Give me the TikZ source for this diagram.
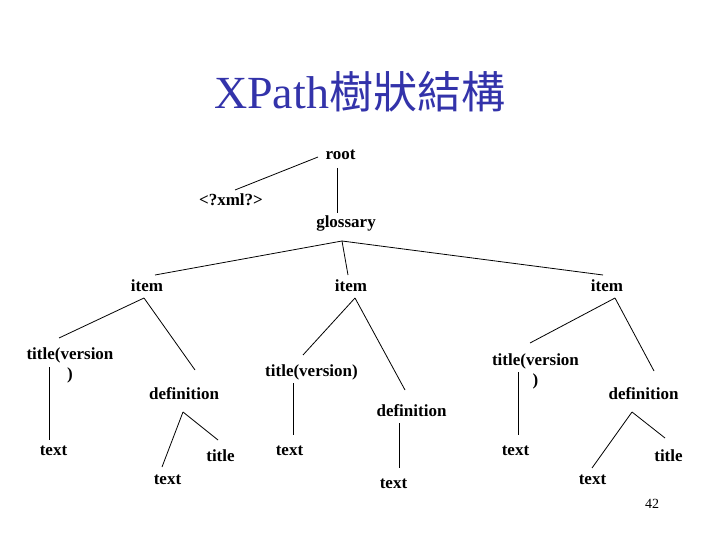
\documentclass[tikz,border=0pt]{standalone}
\usepackage{fontspec}
\setmainfont{Liberation Serif}
\newfontfamily\cjkfont{Noto Sans CJK TC}
\definecolor{titleblue}{RGB}{51,51,170}
\newcommand\nb[3]{([shift={(#2,#3)}]#1.base)}
\tikzset{
  lbl/.style={anchor=base,inner sep=0pt,font=\fontsize{17}{20}\selectfont\bfseries},
  edge/.style={draw=black,line width=0.8pt},
}
\begin{document}
\begin{tikzpicture}[x=1pt,y=-1pt]
\useasboundingbox[fill=white] (0,0) rectangle (720,540);
\node[anchor=base west,inner sep=0pt,text=titleblue,font=\fontsize{46}{50}\selectfont] (title) at (214,109) {XPath{\cjkfont\fontsize{44}{50}\selectfont 樹狀結構}};
\node[lbl] (root) at (340.5,160) {root};
\node[lbl] (xml) at (231,206) {<?xml?>};
\node[lbl] (glossary) at (346,227) {glossary};
\node[lbl] (item1) at (147,291) {item};
\node[lbl] (item2) at (351,291) {item};
\node[lbl] (item3) at (607,291) {item};
\node[lbl] (tvL) at (70,359) {\begin{tabular}[t]{@{}c@{}}title(version\\)\end{tabular}};
\node[lbl] (def1) at (184,399) {definition};
\node[lbl] (tvM) at (311.5,376) {title(version)};
\node[lbl] (def2) at (411.5,416) {definition};
\node[lbl] (tvR) at (535.5,365) {\begin{tabular}[t]{@{}c@{}}title(version\\)\end{tabular}};
\node[lbl] (def3) at (643.5,399) {definition};
\node[lbl] (text1) at (53.5,455) {text};
\node[lbl] (title1) at (220.5,461) {title};
\node[lbl] (text2) at (167.5,484) {text};
\node[lbl] (text3) at (289.5,455) {text};
\node[lbl] (text4) at (393.5,488) {text};
\node[lbl] (text5) at (515.5,455) {text};
\node[lbl] (title2) at (668.5,461) {title};
\node[lbl] (text6) at (592.5,484) {text};
\node[anchor=base,inner sep=0pt,font=\fontsize{14}{16}\selectfont] (num) at (652,508) {42};
% connectors
\draw[edge] \nb{root}{-22.5}{-3} -- \nb{xml}{4}{-16};
\draw[edge] \nb{root}{-3.5}{8} -- \nb{glossary}{-9}{-14};
\draw[edge] \nb{glossary}{-4}{14} -- \nb{item1}{8}{-16};
\draw[edge] \nb{glossary}{-4}{14} -- \nb{item2}{-3}{-16};
\draw[edge] \nb{glossary}{-4}{14} -- \nb{item3}{-4}{-16};
\draw[edge] \nb{item1}{-3}{7} -- \nb{tvL}{-11}{-21};
\draw[edge] \nb{item1}{-3}{7} -- \nb{def1}{11}{-29};
\draw[edge] \nb{tvL}{-21}{8} -- \nb{text1}{-4.5}{-15};
\draw[edge] \nb{def1}{-1}{13} -- \nb{text2}{-5.5}{-17};
\draw[edge] \nb{def1}{-1}{13} -- \nb{title1}{-2.5}{-21};
\draw[edge] \nb{item2}{4}{7} -- \nb{tvM}{-8.5}{-21};
\draw[edge] \nb{item2}{4}{7} -- \nb{def2}{-6.5}{-26};
\draw[edge] \nb{tvM}{-18.5}{7} -- \nb{text3}{3.5}{-20};
\draw[edge] \nb{def2}{-12.5}{7} -- \nb{text4}{5.5}{-20};
\draw[edge] \nb{item3}{8}{7} -- \nb{tvR}{-5.5}{-22};
\draw[edge] \nb{item3}{8}{7} -- \nb{def3}{10.5}{-28};
\draw[edge] \nb{tvR}{-17.5}{7} -- \nb{text5}{2.5}{-20};
\draw[edge] \nb{def3}{-11.5}{13} -- \nb{text6}{-0.5}{-16};
\draw[edge] \nb{def3}{-11.5}{13} -- \nb{title2}{-3.5}{-23};
\end{tikzpicture}
\end{document}
